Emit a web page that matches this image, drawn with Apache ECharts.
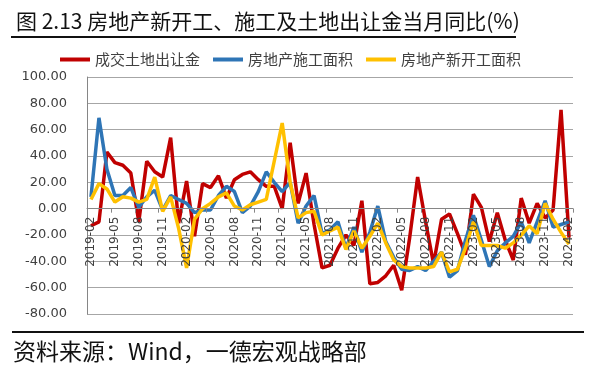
<!DOCTYPE html>
<html><head><meta charset="utf-8">
<script src="https://cdn.jsdelivr.net/npm/echarts@6/dist/echarts.min.js"></script>
<style>html,body{margin:0;padding:0;background:#fff}#c{width:595px;height:368px}</style>
</head><body><div id="c"></div>
<script>
const months = ["2019-02","2019-03","2019-04","2019-05","2019-06","2019-07","2019-08","2019-09","2019-10","2019-11","2019-12",
"2020-01","2020-02","2020-03","2020-04","2020-05","2020-06","2020-07","2020-08","2020-09","2020-10","2020-11","2020-12",
"2021-01","2021-02","2021-03","2021-04","2021-05","2021-06","2021-07","2021-08","2021-09","2021-10","2021-11","2021-12",
"2022-01","2022-02","2022-03","2022-04","2022-05","2022-06","2022-07","2022-08","2022-09","2022-10","2022-11","2022-12",
"2023-01","2023-02","2023-03","2023-04","2023-05","2023-06","2023-07","2023-08","2023-09","2023-10","2023-11","2023-12",
"2024-01","2024-02"];
const landRevenue = [-13,-10,43,35,33,27,-10,36,28,24,54,-11,21,-21,19,16,25,8,22,26,28,22,17,17,0,50,4,27,-12,-45,-43,-30,-20,-28,6,-57,-56,-51,-43,-62,-22,24,-10,-42,-8,-4,-19,-35,11,1,-25,-3,-24,-39,8,-11,4,-7,-1,75,-22];
const constructionArea = [9,69,30,10,10,16,1,9,14,-1,10,7,4,-3,-1,-1,10,17,13,-3,2,13,28,20,13,20,-11,2,10,-19,-16,-10,-30,-14,-33,-18,2,-25,-37,-46,-47,-44,-47,-40,-33,-52,-47,-24,-5,-24,-44,-32,-26,-21,-10,-26,-10,6,-14,-12,-10];
const newStartArea = [7,19,15,5,9,8,5,7,24,-2,9,-15,-45,-8,0,4,9,12,2,-1,3,5,7,36,65,20,-7,-3,-2,-20,-17,-14,-31,-17,-30,-21,-11,-26,-39,-44,-45,-45,-45,-44,-33,-48,-46,-30,-10,-28,-28,-28,-30,-26,-20,-13,-19,4,-8,-18,-27];
const seriesNames = ["成交土地出让金","房地产施工面积","房地产新开工面积"];
const yTicks = {min:-80, max:100, step:20};

const W = 595, H = 368;
const grid = {left:87, right:22, top:77, bottom:54};
const plotH = H - grid.top - grid.bottom;
// distance from the bottom of the plot to the value 0, derived from the axis range
const zeroOffset = plotH * (0 - yTicks.min) / (yTicks.max - yTicks.min);

const chart = echarts.init(document.getElementById('c'), null, {renderer:'canvas'});
const txt = '#404040';
const cjk = '"Noto Sans CJK SC", sans-serif';
chart.setOption({
  animation:false,
  backgroundColor:'#fff',
  title:{
    text:'图 2.13 房地产新开工、施工及土地出让金当月同比(%)',
    left:11, top:6,
    textStyle:{fontFamily:cjk, fontSize:21, fontWeight:'normal', color:'#111'}
  },
  graphic:[
    {type:'line', shape:{x1:11,y1:37,x2:516,y2:37}, style:{stroke:'#111', lineWidth:2}},
    {type:'line', shape:{x1:12,y1:332,x2:584,y2:332}, style:{stroke:'#111', lineWidth:2}},
    {type:'text', left:13, top:340, style:{text:'资料来源：Wind，一德宏观战略部', font:'23px "Noto Sans CJK SC"', fill:'#111'}}
  ],
  legend:{
    data:seriesNames, left:55, top:47,
    icon:'rect', itemWidth:30, itemHeight:4, itemGap:13,
    textStyle:{fontFamily:cjk, fontSize:15, color:txt}
  },
  grid:grid,
  xAxis:{
    type:'category', data:months, boundaryGap:true,
    offset:-zeroOffset, z:10,
    axisLine:{onZero:false, lineStyle:{color:'#868686', width:1}},
    axisTick:{show:true, interval:2, length:4, lineStyle:{color:'#868686'}},
    axisLabel:{interval:2, rotate:90, margin:8, fontFamily:'DejaVu Sans', fontSize:12, color:txt}
  },
  yAxis:{
    type:'value', min:yTicks.min, max:yTicks.max, interval:yTicks.step,
    axisLine:{show:true, lineStyle:{color:'#868686'}},
    axisTick:{show:false},
    splitLine:{lineStyle:{color:'#a6a6a6', width:1}},
    axisLabel:{formatter:v=>v.toFixed(2), fontFamily:'DejaVu Sans', fontSize:13, color:txt, margin:20}
  },
  series:[
    {name:seriesNames[0], type:'line', data:landRevenue, symbol:'none', lineStyle:{width:3.5, color:'#C00000'}, itemStyle:{color:'#C00000'}},
    {name:seriesNames[1], type:'line', data:constructionArea, symbol:'none', lineStyle:{width:3.5, color:'#2E75B6'}, itemStyle:{color:'#2E75B6'}},
    {name:seriesNames[2], type:'line', data:newStartArea, symbol:'none', lineStyle:{width:3.5, color:'#FFC000'}, itemStyle:{color:'#FFC000'}}
  ]
});
</script></body></html>
